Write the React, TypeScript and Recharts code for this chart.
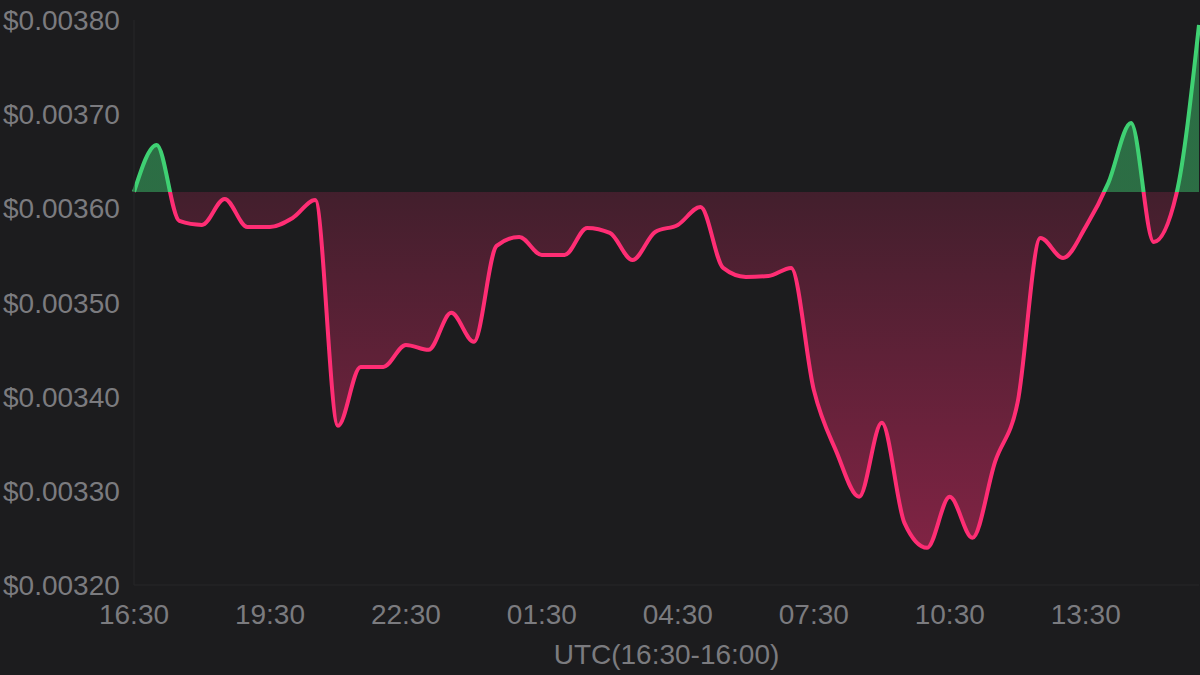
import { AreaChart, Area, XAxis, YAxis, Label } from "recharts";

const TIMES = [
  "16:30", "17:00", "17:30", "18:00", "18:30", "19:00", "19:30", "20:00",
  "20:30", "21:00", "21:30", "22:00", "22:30", "23:00", "23:30", "00:00",
  "00:30", "01:00", "01:30", "02:00", "02:30", "03:00", "03:30", "04:00",
  "04:30", "05:00", "05:30", "06:00", "06:30", "07:00", "07:30", "08:00",
  "08:30", "09:00", "09:30", "10:00", "10:30", "11:00", "11:30", "12:00",
  "12:30", "13:00", "13:30", "14:00", "14:30", "15:00", "15:30", "16:00",
];

const PRICES = [
  0.0036174, 0.0036673, 0.0035866, 0.0035824, 0.00361, 0.0035803, 0.0035803, 0.0035898,
  0.0036089, 0.003369, 0.0034316, 0.0034316, 0.003455, 0.0034497, 0.003489, 0.0034582,
  0.0035601, 0.0035696, 0.0035505, 0.0035505, 0.0035792, 0.0035739, 0.0035452, 0.0035749,
  0.0035824, 0.0036015, 0.0035367, 0.0035272, 0.0035282, 0.0035367, 0.0034072, 0.0033414,
  0.0032936, 0.0033722, 0.003266, 0.0032395, 0.0032936, 0.0032501, 0.0033308, 0.0033945,
  0.0035686, 0.0035473, 0.0035803, 0.003627, 0.0036907, 0.0035643, 0.003615, 0.0037947,
];

const X_TICKS = ["16:30", "19:30", "22:30", "01:30", "04:30", "07:30", "10:30", "13:30"];
const Y_TICKS = [0.0032, 0.0033, 0.0034, 0.0035, 0.0036, 0.0037, 0.0038];
const X_LABEL = "UTC(16:30-16:00)";

const UP = "#3fd173";
const DOWN = "#ff2d74";
const TEXT = "#7b7b7f";
const FONT = "'Liberation Sans', Arial, sans-serif";

const data = TIMES.map((time, i) => ({ time, price: PRICES[i] }));

// the open price splits the line into green (above) and pink (below)
const open = PRICES[0];
const hi = Math.max(...PRICES);
const lo = Math.min(...PRICES);
const split = (hi - open) / (hi - lo);

function YTick({ y, payload }: any) {
  return (
    <text x={3} y={y + 10} fill={TEXT} fontSize={28} fontFamily={FONT} textAnchor="start">
      {`$${payload.value.toFixed(5)}`}
    </text>
  );
}

function XTick({ x, y, payload }: any) {
  return (
    <text x={x} y={y + 39} fill={TEXT} fontSize={28} fontFamily={FONT} textAnchor="middle">
      {payload.value}
    </text>
  );
}

export default function App() {
  return (
    <div
      style={{
        position: "absolute",
        left: 0,
        top: 0,
        width: 1200,
        height: 675,
        background: "#1c1c1e",
      }}
    >
      <AreaChart
        width={1200}
        height={675}
        data={data}
        margin={{ top: 20, right: 1, bottom: 0, left: 0 }}
      >
        <defs>
          <linearGradient id="strokeSplit" x1="0" y1="0" x2="0" y2="1">
            <stop offset={split} stopColor={UP} />
            <stop offset={split} stopColor={DOWN} />
          </linearGradient>
          <linearGradient id="fillSplit" x1="0" y1="0" x2="0" y2="1">
            <stop offset={0} stopColor={UP} stopOpacity={0.45} />
            <stop offset={split} stopColor={UP} stopOpacity={0.45} />
            <stop offset={split} stopColor={DOWN} stopOpacity={0.17} />
            <stop offset={1} stopColor={DOWN} stopOpacity={0.44} />
          </linearGradient>
        </defs>
        <XAxis
          dataKey="time"
          ticks={X_TICKS}
          interval={0}
          height={90}
          tickSize={0}
          tickMargin={0}
          tick={<XTick />}
          axisLine={{ stroke: "#262628" }}
        >
          <Label
            content={({ viewBox }: any) => (
              <text
                x={viewBox.x + viewBox.width / 2}
                y={viewBox.y + viewBox.height - 11}
                fill={TEXT}
                fontSize={28}
                fontFamily={FONT}
                textAnchor="middle"
              >
                {X_LABEL}
              </text>
            )}
          />
        </XAxis>
        <YAxis
          domain={[0.0032, 0.0038]}
          ticks={Y_TICKS}
          width={134}
          tickSize={0}
          tick={<YTick />}
          axisLine={{ stroke: "#262628" }}
          allowDataOverflow
        />
        <Area
          type="monotone"
          dataKey="price"
          baseValue={open}
          stroke="url(#strokeSplit)"
          strokeWidth={4}
          fill="url(#fillSplit)"
          fillOpacity={1}
          dot={false}
          activeDot={false}
          isAnimationActive={false}
        />
      </AreaChart>
    </div>
  );
}
